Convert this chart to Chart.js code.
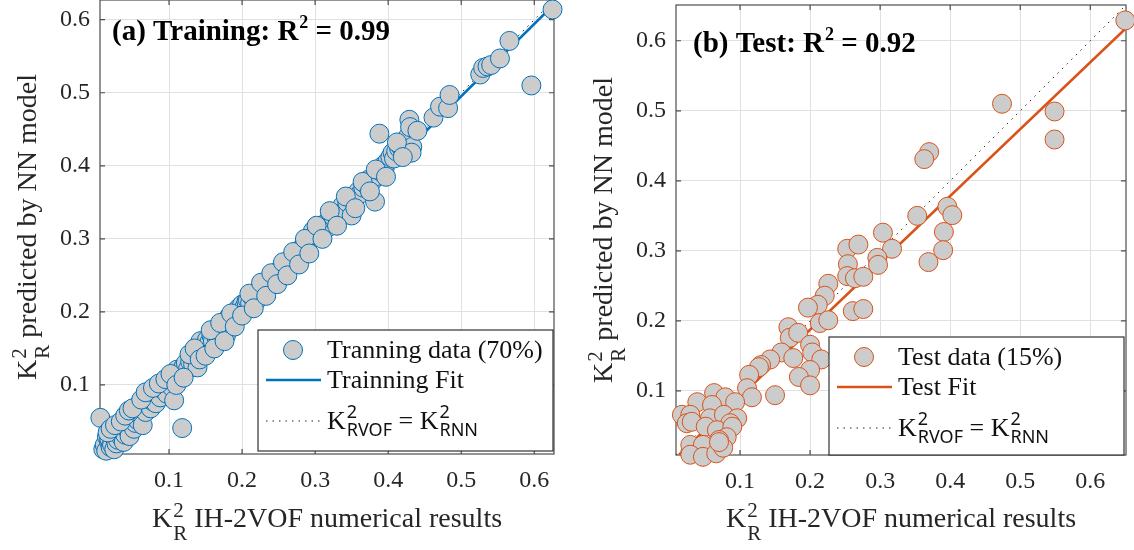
<!DOCTYPE html>
<html>
<head>
<meta charset="utf-8">
<script src="https://cdn.jsdelivr.net/npm/chart.js@4.4.0/dist/chart.umd.min.js"></script>
<style>
  body { margin: 0; background: #fff; }
  #wrap { position: relative; width: 1134px; height: 550px; background: #fff; }
  canvas { position: absolute; top: 0; }
  #left { left: 0; }
  #right { left: 567px; }
</style>
</head>
<body>
<div id="wrap">
  <canvas id="left" width="567" height="550"></canvas>
  <canvas id="right" width="567" height="550"></canvas>
</div>
<script>
// tick labels (same on both axes of both panels)
const tickVals = [0.1, 0.2, 0.3, 0.4, 0.5, 0.6];

// (a) training data: IH-2VOF result vs NN prediction
const trainX = [0.006, 0.010, 0.012, 0.014, 0.015, 0.018, 0.018, 0.020, 0.022, 0.024,
  0.025, 0.028, 0.030, 0.030, 0.032, 0.035, 0.036, 0.038, 0.040, 0.042,
  0.044, 0.046, 0.048, 0.050, 0.052, 0.054, 0.055, 0.057, 0.058, 0.060,
  0.062, 0.064, 0.066, 0.068, 0.070, 0.072, 0.073, 0.075, 0.077, 0.080,
  0.082, 0.085, 0.088, 0.090, 0.093, 0.095, 0.097, 0.100, 0.103, 0.107,
  0.108, 0.111, 0.113, 0.116, 0.118, 0.120, 0.123, 0.126, 0.129, 0.131,
  0.133, 0.136, 0.139, 0.141, 0.143, 0.145, 0.148, 0.150, 0.152, 0.155,
  0.158, 0.160, 0.163, 0.165, 0.168, 0.170, 0.172, 0.175, 0.178, 0.180,
  0.182, 0.185, 0.188, 0.192, 0.195, 0.198, 0.200, 0.203, 0.206, 0.208,
  0.211, 0.214, 0.218, 0.221, 0.224, 0.227, 0.229, 0.232, 0.235, 0.238,
  0.241, 0.244, 0.247, 0.250, 0.252, 0.255, 0.258, 0.261, 0.264, 0.267,
  0.270, 0.273, 0.276, 0.279, 0.282, 0.285, 0.288, 0.291, 0.294, 0.297,
  0.300, 0.304, 0.308, 0.312, 0.315, 0.318, 0.321, 0.325, 0.328, 0.331,
  0.334, 0.337, 0.340, 0.344, 0.348, 0.350, 0.353, 0.356, 0.359, 0.362,
  0.366, 0.370, 0.373, 0.377, 0.380, 0.382, 0.385, 0.388, 0.390, 0.393,
  0.395, 0.399, 0.403, 0.406, 0.408, 0.411, 0.415, 0.418, 0.421, 0.427,
  0.429, 0.430, 0.433, 0.432, 0.440, 0.462, 0.471, 0.482, 0.484, 0.526,
  0.530, 0.536, 0.541, 0.553, 0.566, 0.596, 0.625,
  0.016, 0.020, 0.026, 0.034, 0.040, 0.045, 0.050, 0.062, 0.068, 0.078,
  0.086, 0.095, 0.102, 0.110, 0.120, 0.128, 0.135, 0.142, 0.150, 0.157,
  0.162, 0.170, 0.176, 0.185, 0.190, 0.200, 0.210, 0.216, 0.226, 0.233,
  0.240, 0.248, 0.256, 0.262, 0.270, 0.278, 0.286, 0.292, 0.302, 0.310,
  0.320, 0.330, 0.342, 0.355, 0.365, 0.375, 0.383, 0.397, 0.412, 0.420];
const trainY = [0.055, 0.012, 0.018, 0.010, 0.029, 0.022, 0.027, 0.015, 0.018, 0.030,
  0.012, 0.020, 0.043, 0.025, 0.035, 0.028, 0.040, 0.022, 0.032, 0.050,
  0.038, 0.030, 0.055, 0.045, 0.040, 0.048, 0.062, 0.052, 0.068, 0.075,
  0.058, 0.045, 0.070, 0.063, 0.080, 0.072, 0.085, 0.068, 0.078, 0.088,
  0.075, 0.092, 0.083, 0.095, 0.093, 0.100, 0.088, 0.105, 0.098, 0.079,
  0.110, 0.121, 0.112, 0.118, 0.041, 0.125, 0.130, 0.122, 0.132, 0.138,
  0.128, 0.140, 0.124, 0.147, 0.160, 0.150, 0.143, 0.155, 0.162, 0.158,
  0.168, 0.160, 0.172, 0.165, 0.178, 0.170, 0.175, 0.180, 0.168, 0.188,
  0.193, 0.182, 0.192, 0.197, 0.205, 0.200, 0.210, 0.206, 0.214, 0.216,
  0.212, 0.220, 0.225, 0.217, 0.230, 0.228, 0.233, 0.238, 0.232, 0.242,
  0.245, 0.240, 0.252, 0.256, 0.258, 0.250, 0.262, 0.266, 0.260, 0.272,
  0.270, 0.276, 0.268, 0.285, 0.281, 0.292, 0.288, 0.296, 0.300, 0.311,
  0.305, 0.310, 0.314, 0.318, 0.322, 0.316, 0.329, 0.330, 0.334, 0.326,
  0.340, 0.345, 0.338, 0.350, 0.356, 0.332, 0.353, 0.360, 0.365, 0.362,
  0.370, 0.374, 0.381, 0.378, 0.381, 0.351, 0.386, 0.444, 0.392, 0.400,
  0.395, 0.406, 0.412, 0.418, 0.410, 0.420, 0.424, 0.425, 0.430, 0.440,
  0.463, 0.453, 0.426, 0.418, 0.448, 0.466, 0.481, 0.479, 0.497, 0.525,
  0.534, 0.536, 0.538, 0.547, 0.571, 0.510, 0.614,
  0.035, 0.040, 0.045, 0.050, 0.058, 0.065, 0.068, 0.080, 0.090, 0.096,
  0.102, 0.108, 0.115, 0.100, 0.110, 0.142, 0.150, 0.135, 0.140, 0.175,
  0.150, 0.185, 0.160, 0.198, 0.180, 0.195, 0.225, 0.205, 0.240, 0.222,
  0.253, 0.238, 0.268, 0.250, 0.282, 0.265, 0.300, 0.280, 0.318, 0.300,
  0.338, 0.318, 0.358, 0.342, 0.378, 0.365, 0.395, 0.385, 0.432, 0.412];
const trainFitX = [0.0055, 0.627];
const trainFitY = [0.006, 0.621];
const trainRange = [0.0055, 0.627];

// (b) test data
const testX = [0.650, 0.474, 0.549, 0.549, 0.370, 0.363, 0.353, 0.396, 0.403, 0.391,
  0.390, 0.369, 0.304, 0.317, 0.296, 0.297, 0.253, 0.269, 0.254, 0.253,
  0.264, 0.276, 0.261, 0.276, 0.226, 0.221, 0.211, 0.197, 0.214, 0.226,
  0.169, 0.171, 0.183, 0.200, 0.203, 0.216, 0.200, 0.184, 0.200, 0.159,
  0.176, 0.143, 0.130, 0.127, 0.113, 0.110, 0.117, 0.150, 0.063, 0.079,
  0.093, 0.039, 0.060, 0.017, 0.029, 0.024, 0.031, 0.057, 0.077, 0.096,
  0.086, 0.051, 0.067, 0.089, 0.081, 0.070, 0.029, 0.047, 0.029, 0.047,
  0.066, 0.076, 0.070];
const testY = [0.629, 0.510, 0.499, 0.459, 0.441, 0.431, 0.350, 0.363, 0.351, 0.327,
  0.301, 0.284, 0.326, 0.303, 0.290, 0.280, 0.303, 0.309, 0.281, 0.264,
  0.261, 0.263, 0.214, 0.217, 0.253, 0.236, 0.223, 0.219, 0.197, 0.201,
  0.191, 0.176, 0.183, 0.166, 0.155, 0.145, 0.130, 0.120, 0.108, 0.155,
  0.147, 0.145, 0.137, 0.134, 0.123, 0.104, 0.091, 0.094, 0.097, 0.091,
  0.084, 0.084, 0.080, 0.066, 0.066, 0.054, 0.056, 0.061, 0.066, 0.061,
  0.054, 0.049, 0.044, 0.049, 0.034, 0.030, 0.023, 0.023, 0.009, 0.006,
  0.011, 0.019, 0.027];
const testFitX = [0.013, 0.651];
const testFitY = [0.009, 0.618];
const testRange = [0.0086, 0.651];

const SERIF = "'Liberation Serif', 'Times New Roman', serif";
const SANS = "'Noto Sans', 'DejaVu Sans', sans-serif";
const INK = '#262626';

function pts(xs, ys) {
  return xs.map((x, i) => ({x: x, y: ys[i]}));
}

// K with superscript 2 and a subscript, returns advance width
function drawK(ctx, x, y, sub, f) {
  ctx.font = f.main;
  ctx.fillText('K', x, y);
  let w = ctx.measureText('K').width + 1;
  ctx.font = f.small;
  ctx.fillText('2', x + w, y + f.supDy);
  let ws = ctx.measureText('2').width;
  ctx.fillText(sub, x + w, y + f.subDy);
  let wb = ctx.measureText(sub).width;
  return w + Math.max(ws, wb);
}

function kWidth(ctx, sub, f) {
  ctx.font = f.main;
  let w = ctx.measureText('K').width + 1;
  ctx.font = f.small;
  return w + Math.max(ctx.measureText('2').width, ctx.measureText(sub).width);
}

const axisFont = {main: '28px ' + SERIF, small: '21px ' + SERIF, supDy: -10, subDy: 13};

function axisLabel(ctx, cx, y, rest) {
  let kw = kWidth(ctx, 'R', axisFont);
  ctx.font = axisFont.main;
  let total = kw + ctx.measureText(rest).width;
  let x = cx - total / 2;
  x += drawK(ctx, x, y, 'R', axisFont);
  ctx.font = axisFont.main;
  ctx.fillText(rest, x, y);
}

const decor = {
  id: 'decor',
  beforeDatasetsDraw(chart, args, o) {
    // box and inward ticks
    const ctx = chart.ctx, a = chart.chartArea;
    const xs = chart.scales.x, ys = chart.scales.y;
    ctx.save();
    ctx.strokeStyle = '#4d4d4d';
    ctx.lineWidth = 1.2;
    ctx.strokeRect(a.left, a.top, a.right - a.left, a.bottom - a.top);
    ctx.beginPath();
    tickVals.forEach(v => {
      let px = xs.getPixelForValue(v);
      ctx.moveTo(px, a.bottom); ctx.lineTo(px, a.bottom - 5);
      ctx.moveTo(px, a.top); ctx.lineTo(px, a.top + 5);
      let py = ys.getPixelForValue(v);
      ctx.moveTo(a.left, py); ctx.lineTo(a.left + 5, py);
      ctx.moveTo(a.right, py); ctx.lineTo(a.right - 5, py);
    });
    ctx.stroke();
    ctx.restore();
  },
  afterDatasetsDraw(chart, args, o) {
    const ctx = chart.ctx, a = chart.chartArea;
    ctx.save();
    // panel title
    let tx = a.left + o.titlePos[0], ty = a.top + o.titlePos[1];
    ctx.fillStyle = '#000';
    ctx.font = 'bold 29px ' + SERIF;
    ctx.fillText(o.title, tx, ty);
    tx += ctx.measureText(o.title).width + 1;
    ctx.font = 'bold 18px ' + SERIF;
    ctx.fillText('2', tx, ty - 12);
    tx += ctx.measureText('2').width;
    ctx.font = 'bold 29px ' + SERIF;
    ctx.fillText(o.titleRest, tx, ty);

    // legend box
    const w = 295, h = o.boxH;
    const bx = a.right - o.inset[0] - w, by = a.bottom - o.inset[1] - h;
    ctx.fillStyle = '#fff';
    ctx.fillRect(bx, by, w, h);
    ctx.strokeStyle = '#333';
    ctx.lineWidth = 1.2;
    ctx.strokeRect(bx, by, w, h);

    ctx.beginPath();
    ctx.arc(bx + 35, by + 20, 9.5, 0, Math.PI * 2);
    ctx.fillStyle = '#cccccc';
    ctx.fill();
    ctx.strokeStyle = o.color;
    ctx.lineWidth = 1;
    ctx.stroke();

    ctx.beginPath();
    ctx.moveTo(bx + 8, by + 50); ctx.lineTo(bx + 63, by + 50);
    ctx.lineWidth = 2.6;
    ctx.stroke();

    ctx.beginPath();
    ctx.setLineDash([1.5, 5]);
    ctx.moveTo(bx + 8, by + 91); ctx.lineTo(bx + 63, by + 91);
    ctx.strokeStyle = INK;
    ctx.lineWidth = 1;
    ctx.stroke();
    ctx.setLineDash([]);

    ctx.fillStyle = '#111';
    ctx.font = '26px ' + SERIF;
    ctx.fillText(o.dataLabel, bx + 69, by + 28);
    ctx.fillText(o.fitLabel, bx + 69, by + 58);
    const lf = {main: '26px ' + SERIF, small: '18px ' + SANS, supDy: -11, subDy: 7};
    let lx = bx + 69, ly = by + 99;
    lx += drawK(ctx, lx, ly, 'RVOF', lf);
    ctx.font = lf.main;
    ctx.fillText(' = ', lx, ly);
    lx += ctx.measureText(' = ').width;
    drawK(ctx, lx, ly, 'RNN', lf);
    ctx.restore();
  },
  afterDraw(chart, args, o) {
    const ctx = chart.ctx, a = chart.chartArea;
    ctx.save();
    ctx.fillStyle = INK;
    axisLabel(ctx, (a.left + a.right) / 2, 527, ' IH-2VOF numerical results');
    ctx.translate(o.yTitleX, (a.top + a.bottom) / 2);
    ctx.rotate(-Math.PI / 2);
    axisLabel(ctx, 0, 0, ' predicted by NN model');
    ctx.restore();
  }
};

function axisOpts(range, fitFn, isX) {
  return {
    type: 'linear',
    min: range[0],
    max: range[1],
    afterBuildTicks: s => { s.ticks = tickVals.map(v => ({value: v})); },
    afterFit: s => {
      fitFn(s);
      // ticks never sit at the axis ends, so no extra label padding
      s.paddingTop = 0; s.paddingBottom = 0;
      s.paddingLeft = 0; s.paddingRight = 0;
    },
    grid: { color: '#e0e0e0', lineWidth: 1, drawTicks: false },
    border: { display: false },
    ticks: {
      padding: isX ? 12 : 10,
      autoSkip: false,
      maxRotation: 0,
      color: INK,
      font: { family: SERIF, size: 24 },
      callback: v => v.toFixed(1)
    }
  };
}

function makeChart(id, xs, ys, fitX, fitY, range, color, d) {
  return new Chart(document.getElementById(id), {
    type: 'scatter',
    data: {
      datasets: [{
        label: d.dataLabel,
        data: pts(xs, ys),
        pointRadius: 9.5,
        pointHoverRadius: 9.5,
        pointBackgroundColor: '#cccccc',
        pointBorderColor: color,
        pointBorderWidth: 1,
        clip: false,
        order: 0
      }, {
        label: d.fitLabel,
        data: pts(fitX, fitY),
        showLine: true,
        borderColor: color,
        borderWidth: 2.6,
        pointRadius: 0,
        order: 1
      }, {
        label: 'y = x',
        data: pts(range, range),
        showLine: true,
        borderColor: INK,
        borderWidth: 1,
        borderDash: [1.5, 5],
        pointRadius: 0,
        order: 2
      }]
    },
    options: {
      responsive: false,
      animation: false,
      events: [],
      layout: { padding: d.padding, autoPadding: false },
      plugins: {
        legend: { display: false },
        tooltip: { enabled: false },
        decor: d
      },
      scales: {
        x: axisOpts(range, s => { s.height = d.xAxisH; }, true),
        y: axisOpts(range, s => { s.width = d.yAxisW; }, false)
      }
    },
    plugins: [decor]
  });
}

makeChart('left', trainX, trainY, trainFitX, trainFitY, trainRange, '#0072BD', {
  padding: { top: 0, right: 13, bottom: 0, left: 0 },
  xAxisH: 96, yAxisW: 100,
  title: '(a) Training: R', titleRest: ' = 0.99', titlePos: [12, 40],
  yTitleX: 36,
  inset: [1, 3], boxH: 121,
  color: '#0072BD',
  dataLabel: 'Tranning data (70%)', fitLabel: 'Trainning Fit'
});

makeChart('right', testX, testY, testFitX, testFitY, testRange, '#D95319', {
  padding: { top: 5, right: 8, bottom: 0, left: 0 },
  xAxisH: 95, yAxisW: 109,
  title: '(b) Test: R', titleRest: ' = 0.92', titlePos: [17, 47],
  yTitleX: 45,
  inset: [2, 0], boxH: 118,
  color: '#D95319',
  dataLabel: 'Test data (15%)', fitLabel: 'Test Fit'
});
</script>
</body>
</html>
